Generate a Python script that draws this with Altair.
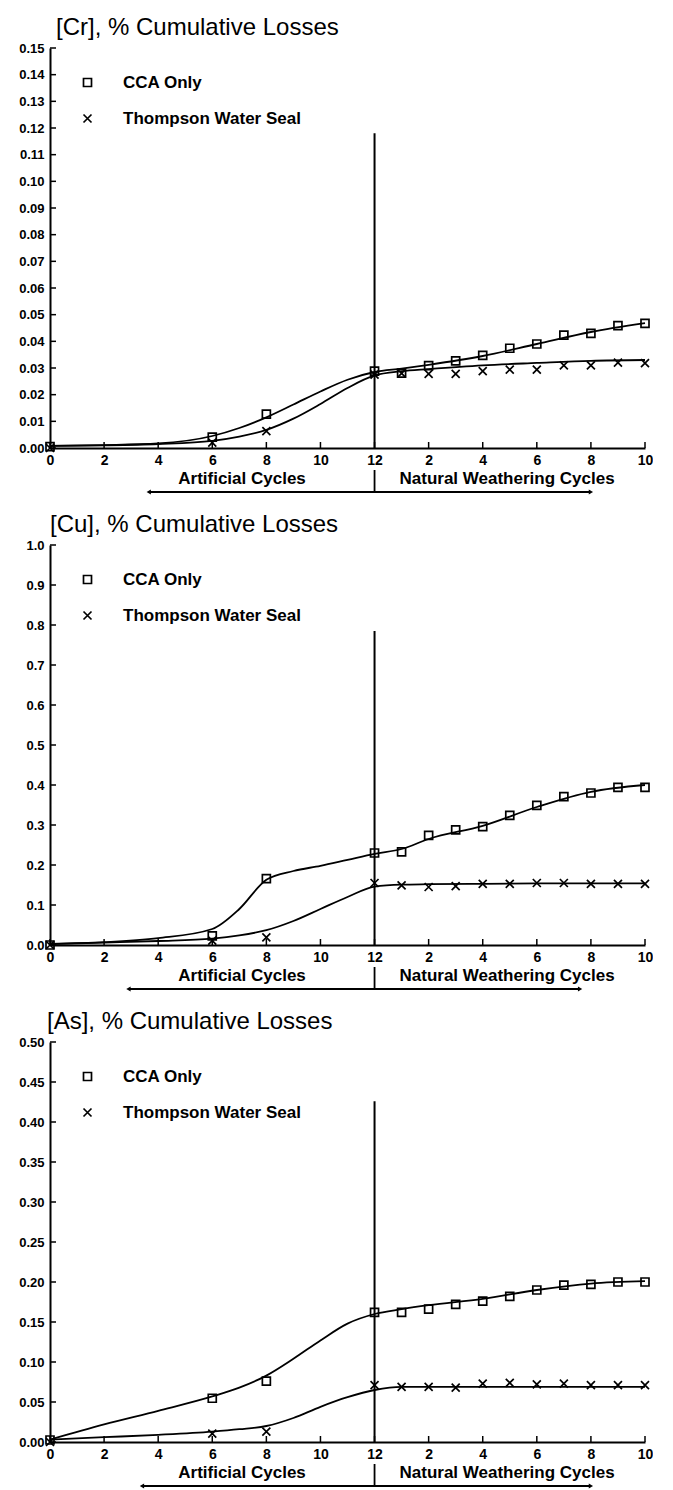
import altair as alt
import pandas as pd

FONT = "Liberation Sans"
XPATH = "M-1,-1L1,1M-1,1L1,-1"

series_names = ["CCA Only", "Thompson Water Seal"]
titles = ["[Cr], % Cumulative Losses", "[Cu], % Cumulative Losses", "[As], % Cumulative Losses"]

# measured points: artificial cycles 0, 6, 8, 12 then natural weathering cycles 1..10
art_cycles = [0, 6, 8, 12]
nat_cycles = [1, 2, 3, 4, 5, 6, 7, 8, 9, 10]

cr_cca = [0.0005, 0.0041, 0.0127, 0.0288, 0.0281, 0.0309, 0.0327, 0.0347, 0.0374, 0.0390, 0.0423, 0.0430, 0.0459, 0.0467]
cr_tws = [0.0000, 0.0020, 0.0063, 0.0275, 0.0280, 0.0278, 0.0278, 0.0288, 0.0294, 0.0294, 0.0310, 0.0310, 0.0320, 0.0318]
cu_cca = [0.000, 0.023, 0.166, 0.230, 0.233, 0.274, 0.288, 0.296, 0.324, 0.349, 0.371, 0.380, 0.394, 0.394]
cu_tws = [0.000, 0.011, 0.019, 0.155, 0.149, 0.145, 0.147, 0.153, 0.153, 0.155, 0.155, 0.153, 0.153, 0.153]
as_cca = [0.0025, 0.0547, 0.0760, 0.1620, 0.1620, 0.1660, 0.1720, 0.1760, 0.1820, 0.1900, 0.1960, 0.1970, 0.2000, 0.2000]
as_tws = [0.0000, 0.0105, 0.0130, 0.0710, 0.0690, 0.0690, 0.0680, 0.0730, 0.0740, 0.0720, 0.0730, 0.0710, 0.0710, 0.0710]

# fitted curves (axis position: natural cycle n sits at 12 + n)
curve_pos = [0, 2, 4, 6, 7, 8, 9, 10, 11, 12, 13, 14, 16, 18, 20, 22]
cr_cca_curve = [0.0008, 0.0011, 0.0017, 0.0045, 0.0075, 0.0115, 0.0163, 0.0212, 0.0256, 0.0285, 0.0298, 0.0312, 0.0345, 0.0390, 0.0435, 0.0468]
cr_tws_curve = [0.0008, 0.0010, 0.0015, 0.0027, 0.0043, 0.0068, 0.0110, 0.0165, 0.0225, 0.0272, 0.0288, 0.0296, 0.0310, 0.0319, 0.0327, 0.0330]
cu_cca_curve = [0.003, 0.007, 0.017, 0.040, 0.090, 0.163, 0.185, 0.198, 0.213, 0.228, 0.240, 0.265, 0.298, 0.345, 0.383, 0.400]
cu_tws_curve = [0.002, 0.006, 0.010, 0.016, 0.024, 0.037, 0.060, 0.090, 0.120, 0.146, 0.151, 0.152, 0.153, 0.154, 0.154, 0.154]
as_cca_curve = [0.003, 0.022, 0.039, 0.057, 0.068, 0.083, 0.104, 0.127, 0.148, 0.160, 0.166, 0.171, 0.179, 0.190, 0.198, 0.201]
as_tws_curve = [0.003, 0.006, 0.009, 0.013, 0.016, 0.020, 0.030, 0.044, 0.056, 0.065, 0.069, 0.069, 0.069, 0.069, 0.069, 0.069]

x_tick_pos = [0, 2, 4, 6, 8, 10, 12, 14, 16, 18, 20, 22]
cr_yticks = [0.00, 0.01, 0.02, 0.03, 0.04, 0.05, 0.06, 0.07, 0.08, 0.09, 0.10, 0.11, 0.12, 0.13, 0.14, 0.15]
cu_yticks = [0.0, 0.1, 0.2, 0.3, 0.4, 0.5, 0.6, 0.7, 0.8, 0.9, 1.0]
as_yticks = [0.00, 0.05, 0.10, 0.15, 0.20, 0.25, 0.30, 0.35, 0.40, 0.45, 0.50]
y_max = [0.15, 1.0, 0.5]
y_fmt = [".2f", ".1f", ".2f"]
vline_pos = 12
vline_tops = [0.118, 0.785, 0.426]
phase_labels = ["Artificial Cycles", "Natural Weathering Cycles"]
phase_label_pos = [7.1, 16.9]
arrow_spans = [(3.65, 20.0), (2.9, 19.6), (3.4, 20.0)]
title_dx = [6, 0, -3]

W = 595
H = 400


def panel(i, cca, tws, cca_curve, tws_curve, yticks):
    positions = art_cycles + [12 + n for n in nat_cycles]
    pts = pd.DataFrame({
        "pos": positions * 2,
        "val": cca + tws,
        "series": [series_names[0]] * len(cca) + [series_names[1]] * len(tws),
    })
    crv = pd.DataFrame({
        "pos": curve_pos * 2,
        "val": cca_curve + tws_curve,
        "series": [series_names[0]] * len(cca_curve) + [series_names[1]] * len(tws_curve),
    })
    xs = alt.Scale(domain=[0, 22], nice=False, zero=False)
    ys = alt.Scale(domain=[0, y_max[i]], nice=False)
    xaxis = alt.Axis(
        values=x_tick_pos,
        labelExpr="datum.value <= 12 ? datum.label : toString(datum.value - 12)",
        tickSize=0, labelPadding=5, labelFont=FONT, labelFontSize=14, labelFontWeight="bold",
        labelColor="black", domainWidth=2, domainColor="black", grid=False, title=None,
        labelFlush=False, labelOverlap=False,
    )
    yaxis = alt.Axis(
        values=yticks, format=y_fmt[i],
        tickSize=0, labelPadding=6, labelFont=FONT, labelFontSize=13, labelFontWeight="bold",
        labelColor="black", domainWidth=2, domainColor="black", grid=False, title=None,
        labelFlush=False, labelOverlap=False,
    )
    X = alt.X("pos:Q", scale=xs, axis=xaxis)
    Y = alt.Y("val:Q", scale=ys, axis=yaxis)

    lines = alt.Chart(crv).mark_line(interpolate="monotone", color="black", strokeWidth=1.8).encode(
        x=X, y=Y, detail="series:N"
    )
    points = alt.Chart(pts).mark_point(filled=False, size=64, strokeWidth=1.7, color="black", opacity=1).encode(
        x=X, y=Y,
        shape=alt.Shape(
            "series:N",
            scale=alt.Scale(domain=series_names, range=["square", XPATH]),
            legend=alt.Legend(
                orient="none", legendX=29, legendY=26, title=None, padding=0,
                labelFont=FONT, labelFontSize=17, labelFontWeight="bold", labelColor="black",
                labelOffset=27, rowPadding=18, symbolSize=64, symbolStrokeWidth=1.7,
                symbolStrokeColor="black", symbolFillColor="transparent", labelLimit=400,
            ),
        ),
    )
    vdf = pd.DataFrame({"pos": [vline_pos], "val": [0.0], "hi": [vline_tops[i]]})
    vline = alt.Chart(vdf).mark_rule(color="black", strokeWidth=2).encode(
        x=X, y=Y, y2="hi:Q"
    )
    ytk = alt.Chart(pd.DataFrame({"val": yticks})).mark_rule(color="black", strokeWidth=1.5).encode(
        y=Y, x=alt.value(0), x2=alt.value(6)
    )
    xtk = alt.Chart(pd.DataFrame({"pos": x_tick_pos})).mark_rule(color="black", strokeWidth=1.5).encode(
        x=X, y=alt.value(H), y2=alt.value(H - 6)
    )
    lab = alt.Chart(pd.DataFrame({"pos": phase_label_pos, "label": phase_labels})).mark_text(
        font=FONT, fontSize=17, fontWeight="bold", color="black", baseline="alphabetic", align="center"
    ).encode(x=X, y=alt.value(H + 36), text="label:N")
    bar = alt.Chart(pd.DataFrame({"pos": [vline_pos]})).mark_rule(color="black", strokeWidth=1.8).encode(
        x=X, y=alt.value(H + 22), y2=alt.value(H + 45)
    )
    a0, a1 = arrow_spans[i]
    arrow = alt.Chart(pd.DataFrame({"pos": [a0], "pos2": [a1]})).mark_rule(color="black", strokeWidth=1.8).encode(
        x=X, x2="pos2:Q", y=alt.value(H + 44)
    )
    head_l = alt.Chart(pd.DataFrame({"pos": [a0]})).mark_point(
        shape="triangle-left", filled=True, size=25, color="black", opacity=1
    ).encode(x=X, y=alt.value(H + 44))
    head_r = alt.Chart(pd.DataFrame({"pos": [a1]})).mark_point(
        shape="triangle-right", filled=True, size=25, color="black", opacity=1
    ).encode(x=X, y=alt.value(H + 44))

    return alt.layer(lines, points, vline, ytk, xtk, lab, bar, arrow, head_l, head_r).properties(
        width=W, height=H,
        title=alt.TitleParams(
            titles[i], anchor="start", frame="group", font=FONT, fontSize=24,
            fontWeight="normal", color="black", offset=2, dx=title_dx[i],
        ),
    )


p1 = panel(0, cr_cca, cr_tws, cr_cca_curve, cr_tws_curve, cr_yticks)
p2 = panel(1, cu_cca, cu_tws, cu_cca_curve, cu_tws_curve, cu_yticks)
p3 = panel(2, as_cca, as_tws, as_cca_curve, as_tws_curve, as_yticks)

chart = (
    alt.vconcat(p1, p2, p3, spacing=18)
    .resolve_scale(x="independent", y="independent", shape="independent")
    .properties(padding={"left": 10, "top": 8, "right": 0, "bottom": 0})
    .configure_view(stroke=None)
)

chart.save("out.html", embed_options={"renderer": "svg", "actions": False})
